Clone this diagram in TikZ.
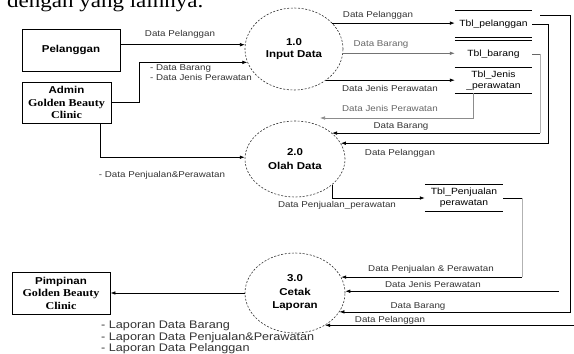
\documentclass[tikz,border=0pt]{standalone}
\usepackage{fontspec}
\setmainfont[FakeStretch=1.15]{Liberation Sans}
\newfontfamily\srf[FakeStretch=1.15]{Liberation Serif}
\usepackage{tikz}
\usetikzlibrary{positioning, arrows.meta, shapes.geometric}

\tikzset{
  ext/.style={draw, line width=0.8pt, align=center, inner sep=0pt, font=\bfseries\fontsize{10}{12.5}\selectfont},
  proc/.style={ellipse, draw=black!80, dash pattern=on 2pt off 1.6pt, line width=0.6pt, inner sep=0pt, align=center, font=\bfseries\fontsize{10}{12.5}\selectfont},
  store/.style={inner sep=0pt, minimum width=77pt, align=center, font=\fontsize{9}{11}\selectfont,
    append after command={(\tikzlastnode.north west) edge[-, line width=0.7pt] (\tikzlastnode.north east)
      (\tikzlastnode.south west) edge[-, line width=0.7pt] (\tikzlastnode.south east)}},
  flow/.style={-{Latex[length=5pt,width=3.6pt]}, line width=0.7pt},
  faint/.style={line width=0.6pt, draw=black!30},
  lbl/.style={font=\fontsize{8.5}{10}\selectfont, text=black!80, inner sep=0pt},
}

\begin{document}
\begin{tikzpicture}[x=1pt, y=-1pt]
\fill[white] (0,0) rectangle (574,354);
\useasboundingbox (0,0) rectangle (574,354);

\node(intro)[anchor=base west, inner sep=0pt, font=\srf\fontsize{20}{20}\selectfont] at (7,7){dengan yang lainnya.};

% external entities
\node(pel)[ext, minimum width=98pt, minimum height=42pt] at (71,50){Pelanggan};
\node(adm)[ext, minimum width=89pt, minimum height=41pt] at (66.5,102.5){Admin\\{\srf\fontsize{10.5}{12.5}\selectfont Golden Beauty}\\{\srf\fontsize{10.5}{12.5}\selectfont Clinic}};
\node(pim)[ext, minimum width=98pt, minimum height=42pt] at (61,293){Pimpinan\\{\srf\fontsize{10.5}{13}\selectfont Golden Beauty}\\{\srf\fontsize{10.5}{13}\selectfont Clinic}};

% processes
\node(p1)[proc, minimum width=98pt, minimum height=82pt] at (294,49){1.0\\Input Data};
\node(p2)[proc, minimum width=100pt, minimum height=76pt, font=\bfseries\fontsize{10}{14}\selectfont] at (295,159){2.0\\Olah Data};
\node(p3)[proc, minimum width=100pt, minimum height=80pt, font=\bfseries\fontsize{10}{13.5}\selectfont] at (295,293){3.0\\Cetak\\Laporan};

% data stores
\node(tblpel)[store, minimum height=26pt] at (493.5,24){Tbl\_pelanggan};
\node(tblbrg)[store, minimum height=27pt, below=3pt of tblpel]{Tbl\_barang};
\node(tbljns)[store, minimum height=25pt, below=0pt of tblbrg]{Tbl\_Jenis\\\_perawatan};
\node(tblpnj)[store, minimum width=78pt, minimum height=26pt] at (464,198){Tbl\_Penjualan\\perawatan};

\coordinate (admjog) at (139,0);
\coordinate (admdrop) at (100,0);
\coordinate (busA) at (548,0);
\coordinate (busB) at (540,0);
\coordinate (busC) at (570,0);
\coordinate (busD) at (522,0);
\coordinate (jnsdrop) at (473,0);
\coordinate (jnsend) at (320,118);
\coordinate (jns3) at (559,0);
\coordinate (brgtop) at (540,15);
\coordinate (pelend) at (585,0);

% flows into 1.0
\draw[flow] (pel.east |- p1.175) -- (p1.175);
\draw[flow] (adm.east) -| (admjog |- p1.196) -- (p1.196);
\draw[flow] (adm.south -| admdrop) |- (p2.178);

% flows out of 1.0
\draw[flow] (p1.34) -- (p1.34 -| tblpel.west);
\draw[flow, black!55] (p1.355) -- (p1.355 -| tblbrg.west);
\draw[flow] (p1.316) -- (p1.316 -| tbljns.west);

% stores to 2.0
\draw[flow] (tblpel.east) -| (busA |- p2.19) -- (p2.19);
\draw[line width=0.6pt, black!60] (tblbrg.east) -- (tblbrg.east -| busB);
\draw[faint] (tblbrg.east -| busB) -- (busB |- p2.35);
\draw[flow] (busB |- p2.35) -- (p2.35);
\draw[flow, black!45] (tbljns.south -| jnsdrop) |- (jnsend);

% 2.0 to store
\draw[flow] (p2.325) |- (tblpnj.west);

% stores to 3.0
\draw[line width=0.7pt] (tblpnj.east) -- (tblpnj.east -| busD);
\draw[faint] (tblpnj.east -| busD) -- (busD |- p3.19);
\draw[flow] (busD |- p3.19) -- (p3.19);
\draw[flow] (p3.2 -| jns3) -- (p3.2);
\draw[flow] (brgtop) -| (busC |- p3.337) -- (p3.337);
\draw[flow] (p3.313 -| pelend) -- (p3.313);

% 3.0 to Pimpinan
\draw[flow] (p3.west) -- (pim.east);

% labels
\node(lb1)[lbl] at (180,34){Data Pelanggan};
\node(lb2)[lbl, anchor=west, align=left] at (150,73){- Data Barang\\- Data Jenis Perawatan};
\node(lb3)[lbl] at (162,175){- Data Penjualan\&Perawatan};
\node(lb4)[lbl] at (378,15){Data Pelanggan};
\node(lb5)[lbl, text=black!60] at (381,44){Data Barang};
\node(lb6)[lbl] at (390,88){Data Jenis Perawatan};
\node(lb7)[lbl, text=black!60] at (390,108){Data Jenis Perawatan};
\node(lb8)[lbl] at (401,126){Data Barang};
\node(lb9)[lbl] at (400,153){Data Pelanggan};
\node(lb10)[lbl] at (337,205){Data Penjualan\_perawatan};
\node(lb11)[lbl] at (431,269){Data Penjualan \& Perawatan};
\node(lb12)[lbl] at (433,284){Data Jenis Perawatan};
\node(lb13)[lbl] at (418,306){Data Barang};
\node(lb14)[lbl] at (390,320){Data Pelanggan};
\node(lblap)[lbl, anchor=north west, align=left, font=\fontsize{11}{11.5}\selectfont] at (101,321){- Laporan Data Barang\\- Laporan Data Penjualan\&Perawatan\\- Laporan Data Pelanggan};
\end{tikzpicture}
\end{document}
